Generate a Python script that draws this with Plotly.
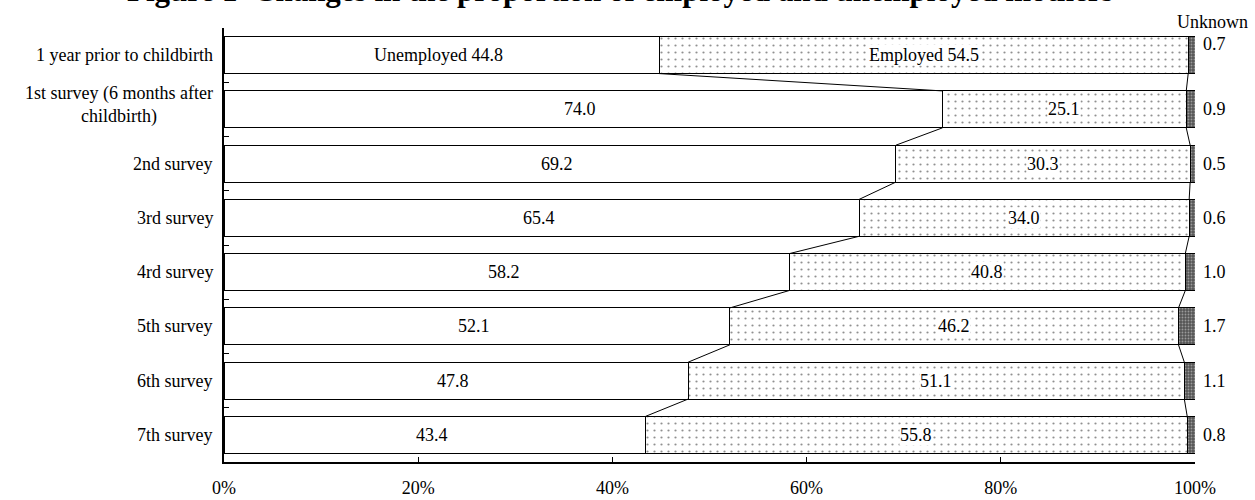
import plotly.graph_objects as go

categories = [
    "1 year prior to childbirth",
    "1st survey (6 months after<br>childbirth)",
    "2nd survey",
    "3rd survey",
    "4rd survey",
    "5th survey",
    "6th survey",
    "7th survey",
]
unemployed = [44.8, 74.0, 69.2, 65.4, 58.2, 52.1, 47.8, 43.4]
employed = [54.5, 25.1, 30.3, 34.0, 40.8, 46.2, 51.1, 55.8]
unknown = [0.7, 0.9, 0.5, 0.6, 1.0, 1.7, 1.1, 0.8]
x_tickvals = [0, 20, 40, 60, 80, 100]
x_ticktext = ["0%", "20%", "40%", "60%", "80%", "100%"]
title_text = "Figure 1  Changes in the proportion of employed and unemployed mothers"

FONT = "Liberation Serif"
BAR_W = 0.68
pos = list(range(len(categories)))

fig = go.Figure()
fig.add_trace(go.Bar(
    y=pos, x=unemployed, orientation="h", width=BAR_W, name="Unemployed",
    marker=dict(color="white", line=dict(color="black", width=1)),
))
fig.add_trace(go.Bar(
    y=pos, x=employed, orientation="h", width=BAR_W, name="Employed",
    marker=dict(color="white", line=dict(color="black", width=1),
                pattern=dict(shape=".", size=7, solidity=0.08,
                             fgcolor="#222", bgcolor="white")),
))
fig.add_trace(go.Bar(
    y=pos, x=unknown, orientation="h", width=BAR_W, name="Unknown",
    marker=dict(color="#777", line=dict(color="black", width=1),
                pattern=dict(shape=".", size=3, solidity=0.3,
                             fgcolor="#e0e0e0", bgcolor="#555")),
))

# series lines connecting segment boundaries between consecutive bars
lx, ly = [], []
for i in range(len(pos) - 1):
    b1a = unemployed[i]
    b1b = unemployed[i + 1]
    b2a = unemployed[i] + employed[i]
    b2b = unemployed[i + 1] + employed[i + 1]
    lx += [b1a, b1b, None, b2a, b2b, None]
    ly += [pos[i] + BAR_W / 2, pos[i + 1] - BAR_W / 2, None,
           pos[i] + BAR_W / 2, pos[i + 1] - BAR_W / 2, None]
fig.add_trace(go.Scatter(x=lx, y=ly, mode="lines",
                         line=dict(color="black", width=1),
                         hoverinfo="skip", showlegend=False))

ann = []
for i, p in enumerate(pos):
    u = f"{unemployed[i]:.1f}"
    e = f"{employed[i]:.1f}"
    if i == 0:
        u = "Unemployed " + u
        e = "Employed " + e
    ann.append(dict(x=unemployed[i] / 2, y=p, xref="x", yref="y", text=u,
                    xshift=-3, showarrow=False, font=dict(size=18)))
    ann.append(dict(x=unemployed[i] + employed[i] / 2, y=p, xref="x", yref="y",
                    text=e, showarrow=False, font=dict(size=18),
                    bgcolor="white", borderpad=0))
    ann.append(dict(x=100, y=p, xref="x", yref="y", text=f"{unknown[i]:.1f}",
                    xanchor="left", xshift=6, yshift=11 if i == 0 else 0,
                    showarrow=False, font=dict(size=18)))
    ann.append(dict(x=0, y=p, xref="paper", yref="y", text=categories[i],
                    xanchor="right", xshift=-9, align="center",
                    yshift=4 if "<br>" in categories[i] else 0,
                    showarrow=False, font=dict(size=18)))
ann.append(dict(x=100, y=1.0138, xref="x", yref="paper", text="Unknown",
                xanchor="center", yanchor="middle", xshift=17,
                showarrow=False, font=dict(size=18)))
ann.append(dict(x=0.408, y=1.042, xref="paper", yref="paper", text="<b>" + title_text + "</b>",
                xanchor="center", yanchor="bottom",
                showarrow=False, font=dict(size=31)))

fig.update_layout(
    barmode="stack",
    bargap=0.32,
    width=1255, height=500,
    margin=dict(l=224, r=60, t=28, b=38),
    paper_bgcolor="white", plot_bgcolor="white",
    font=dict(family=FONT, size=18, color="black"),
    showlegend=False,
    annotations=ann,
    xaxis=dict(range=[0, 100], tickvals=x_tickvals, ticktext=x_ticktext,
               ticks="inside", ticklen=5, tickwidth=1, tickcolor="black",
               showline=True, linecolor="black", linewidth=2,
               showgrid=False, zeroline=False, ticklabelstandoff=8,
               automargin=False, tickfont=dict(size=18)),
    yaxis=dict(range=[len(pos) - 0.5, -0.5],
               tickvals=[p - 0.5 for p in pos] + [len(pos) - 0.5],
               ticks="inside", ticklen=5, tickwidth=1, tickcolor="black",
               showticklabels=False, automargin=False,
               showline=True, linecolor="black", linewidth=2,
               showgrid=False, zeroline=False),
)

fig.write_html("out.html", config={"displayModeBar": False},
               post_script="document.body.style.margin='0px';document.body.style.overflow='hidden';")
